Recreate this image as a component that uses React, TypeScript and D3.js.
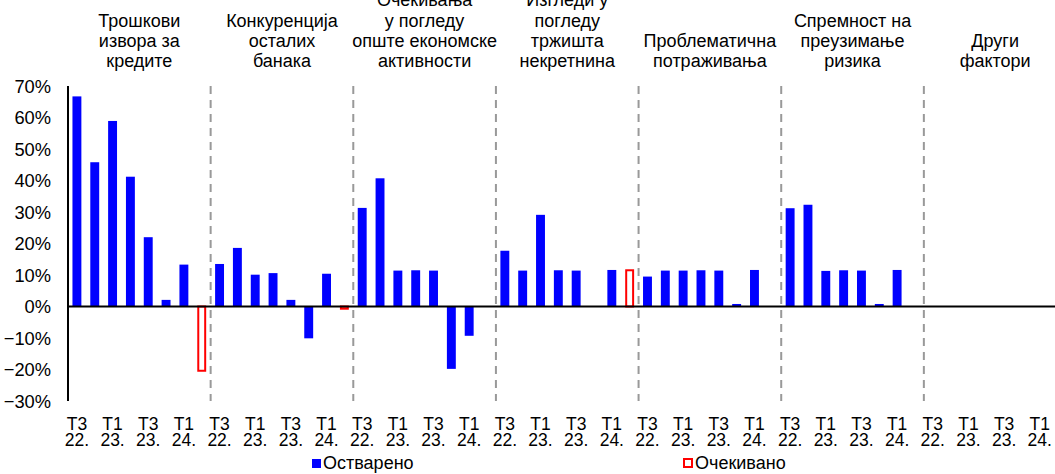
import React from "react";
import * as d3 from "d3";

const groupTitles: string[][] = [
  ["Трошкови", "извора за", "кредите"],
  ["Конкуренција", "осталих", "банака"],
  ["Очекивања", "у погледу", "опште економске", "активности"],
  ["Изгледи у", "погледу", "тржишта", "некретнина"],
  ["Проблематична", "потраживања"],
  ["Спремност на", "преузимање", "ризика"],
  ["Други", "фактори"],
];

const periods = ["Т3 22.", "Т4 22.", "Т1 23.", "Т2 23.", "Т3 23.", "Т4 23.", "Т1 24.", "Т2 24."];
const shownPeriods = ["Т3 22.", "Т1 23.", "Т3 23.", "Т1 24."];

// Realized values (%) per group, periods Т3 22. .. Т1 24.
const costOfFunds = [66.7, 45.8, 58.9, 41.2, 22.0, 2.1, 13.3];
const competition = [13.5, 18.6, 10.1, 10.6, 2.1, -10.1, 10.4];
const economicActivity = [31.3, 40.7, 11.4, 11.5, 11.4, -19.8, -9.3];
const realEstate = [17.7, 11.4, 29.1, 11.5, 11.4, 0, 11.6];
const problemLoans = [9.5, 11.4, 11.4, 11.5, 11.4, 0.8, 11.6];
const riskTolerance = [31.2, 32.3, 11.3, 11.5, 11.4, 0.8, 11.6];
const otherFactors = [0, 0, 0, 0, 0, 0, 0];
// Expected values (%) for Т2 24.
const expected = [-20.4, -0.7, 0, 11.5, 0, 0, 0];

const realized = [costOfFunds, competition, economicActivity, realEstate, problemLoans, riskTolerance, otherFactors];

const yTicks = [0.7, 0.6, 0.5, 0.4, 0.3, 0.2, 0.1, 0, -0.1, -0.2, -0.3];

const FONT = "'Liberation Sans', Arial, sans-serif";

export default function App() {
  const W = 1055;
  const H = 474;
  const left = 68;
  const right = 1066.5;
  const top = 86;
  const bottom = 401;

  const slotKeys: string[] = [];
  groupTitles.forEach((_, g) => periods.forEach((p) => slotKeys.push(`${g}|${p}`)));

  const x = d3.scaleBand<string>().domain(slotKeys).range([left, right]).paddingInner(0.5).paddingOuter(0.25);
  const gx = d3.scaleBand<string>().domain(groupTitles.map((_, i) => String(i))).range([left, right]).padding(0);
  const y = d3.scaleLinear().domain([-0.3, 0.7]).range([bottom, top]);
  const fmt = d3.format(".0%");

  const blueBars: { x: number; y0: number; y1: number; key: string }[] = [];
  realized.forEach((vals, g) =>
    vals.forEach((v, i) => {
      if (v === 0) return;
      blueBars.push({ key: `${g}-${i}`, x: x(`${g}|${periods[i]}`)!, y0: y(0), y1: y(v / 100) });
    })
  );
  const redBars = expected
    .map((v, g) => ({ v, g }))
    .filter((d) => d.v !== 0)
    .map((d) => ({ key: `r${d.g}`, x: x(`${d.g}|${periods[7]}`)!, y0: y(0), y1: y(d.v / 100) }));

  return (
    <svg width={W} height={H} style={{ position: "absolute", left: 0, top: 0, background: "#fff" }} fontFamily={FONT}>
      <rect x={0} y={0} width={W} height={H} fill="#fff" />
      {/* group titles */}
      {groupTitles.map((lines, g) => {
        const cx = gx(String(g))! + gx.bandwidth() / 2;
        return (
          <text key={`t${g}`} x={cx} textAnchor="middle" fontSize={18} fill="#000">
            {lines.map((l, i) => (
              <tspan key={i} x={cx} y={67 - (lines.length - 1 - i) * 20.2}>
                {l}
              </tspan>
            ))}
          </text>
        );
      })}
      {/* y tick labels */}
      {yTicks.map((t) => (
        <text key={`y${t}`} x={51} y={y(t)} dy="0.36em" textAnchor="end" fontSize={18.3} fill="#000">
          {fmt(t)}
        </text>
      ))}
      {/* group separators */}
      {groupTitles.slice(1).map((_, i) => {
        const gxp = gx(String(i + 1))!;
        return (
          <line key={`d${i}`} x1={gxp} x2={gxp} y1={y(0.7)} y2={y(-0.3)} stroke="#999" strokeWidth={2} strokeDasharray="8,6" />
        );
      })}
      {/* bars */}
      {blueBars.map((b) => (
        <rect key={b.key} x={b.x} width={x.bandwidth()} y={Math.min(b.y0, b.y1)} height={Math.abs(b.y1 - b.y0)} fill="#0000ff" />
      ))}
      {redBars.map((b) => (
        <rect
          key={b.key}
          x={b.x + 1}
          width={x.bandwidth() - 2}
          y={Math.min(b.y0, b.y1)}
          height={Math.abs(b.y1 - b.y0)}
          fill="#fff"
          stroke="#ff0000"
          strokeWidth={2}
        />
      ))}
      {/* axes */}
      <line x1={left} x2={left} y1={y(0.7)} y2={y(-0.3)} stroke="#000" strokeWidth={2} />
      <line x1={left} x2={right} y1={y(0)} y2={y(0)} stroke="#000" strokeWidth={2} />
      {/* x labels */}
      {groupTitles.map((_, g) =>
        periods.map((p, i) => {
          if (!shownPeriods.includes(p)) return null;
          const cx = x(`${g}|${p}`)! + x.bandwidth() / 2;
          const [a, b] = p.split(" ");
          return (
            <text key={`x${g}-${i}`} textAnchor="middle" fontSize={17.5} fill="#000">
              <tspan x={cx} y={430}>{a}</tspan>
              <tspan x={cx} y={446}>{b}</tspan>
            </text>
          );
        })
      )}
      {/* legend */}
      <rect x={312} y={459} width={9} height={9} fill="#0000ff" />
      <text x={323} y={469} fontSize={18} fill="#000">Остварено</text>
      <rect x={684} y={459} width={8} height={8} fill="#fff" stroke="#ff0000" strokeWidth={2} />
      <text x={695} y={469} fontSize={18} fill="#000">Очекивано</text>
    </svg>
  );
}
